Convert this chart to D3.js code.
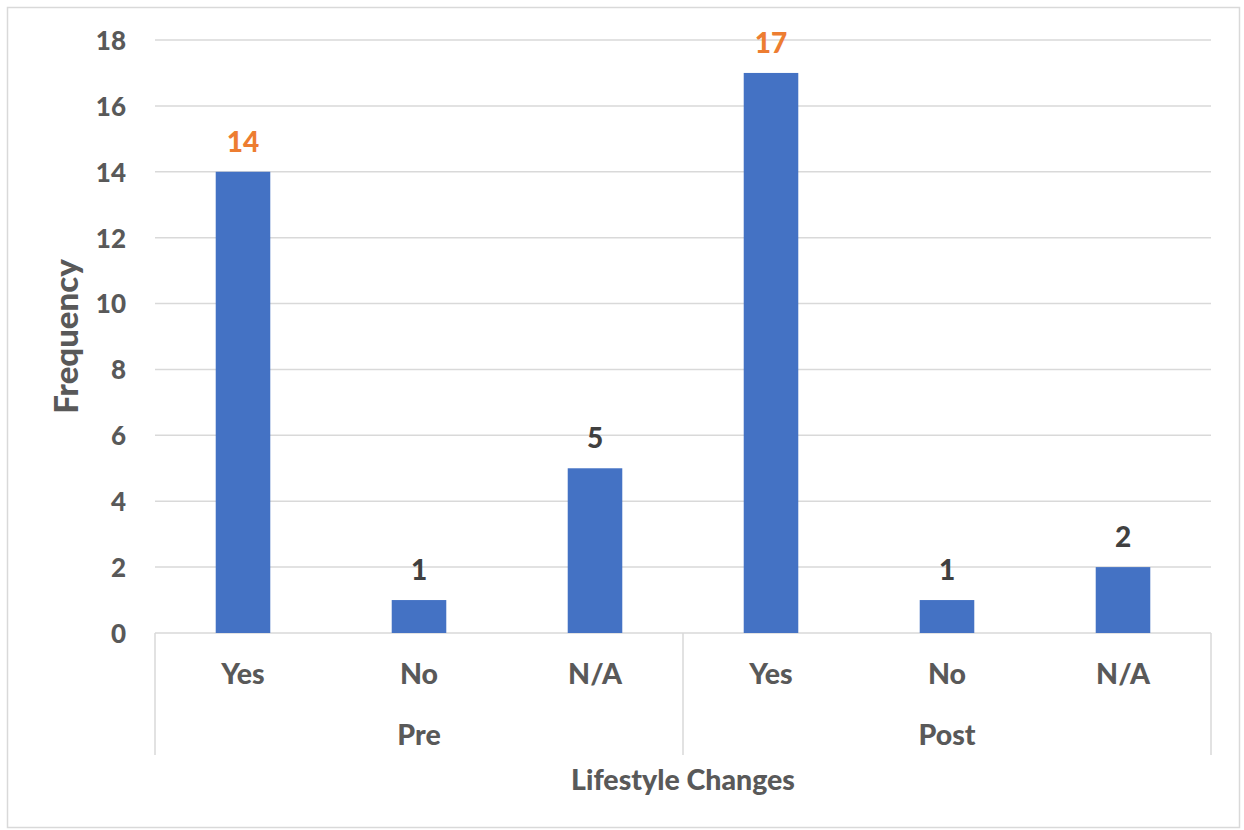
<!DOCTYPE html>
<html>
<head>
<meta charset="utf-8">
<script src="https://cdn.jsdelivr.net/npm/d3@7"></script>
<style>
  html, body { margin: 0; padding: 0; background: #fff; }
  svg text { font-family: Lato, "Open Sans", "Noto Sans", sans-serif; font-weight: 900; }
</style>
</head>
<body>
<svg id="chart" width="1244" height="830"></svg>
<script>
// Lifestyle change responses, before and after
const groups = ["Pre", "Post"];
const categories = ["Yes", "No", "N/A"];
const preValues = [14, 1, 5];
const postValues = [17, 1, 2];
const yTicks = [0, 2, 4, 6, 8, 10, 12, 14, 16, 18];
const highlightColor = "#ED7D31";   // labels for the "Yes" bars
const labelColor = "#404040";

const rows = [];
groups.forEach((g, gi) => {
  const vals = gi === 0 ? preValues : postValues;
  categories.forEach((c, ci) => rows.push({ group: g, cat: c, key: g + "|" + c, value: vals[ci] }));
});

const svg = d3.select("#chart");
const plot = { left: 155, right: 1211, top: 40, bottom: 633 };

// chart frame
svg.append("rect")
  .attr("x", 7.5).attr("y", 7.5)
  .attr("width", 1232).attr("height", 820)
  .attr("fill", "#fff").attr("stroke", "#D9D9D9").attr("stroke-width", 1.5);

const x = d3.scaleBand()
  .domain(rows.map(d => d.key))
  .range([plot.left, plot.right])
  .paddingInner(0.69).paddingOuter(0.345);

const y = d3.scaleLinear().domain([0, 18]).range([plot.bottom, plot.top]);

// gridlines
svg.append("g")
  .selectAll("line")
  .data(yTicks)
  .join("line")
  .attr("x1", plot.left).attr("x2", plot.right)
  .attr("y1", d => y(d)).attr("y2", d => y(d))
  .attr("stroke", "#D9D9D9").attr("stroke-width", 1.5);

// y axis labels
const yAxis = svg.append("g")
  .attr("transform", `translate(${plot.left - 29},0)`)
  .call(d3.axisLeft(y).tickValues(yTicks).tickSize(0).tickPadding(0));
yAxis.select(".domain").remove();
yAxis.selectAll("text")
  .attr("fill", "#595959")
  .style("font-size", "26px")
  .attr("dy", "0.36em");

// bars
svg.append("g")
  .selectAll("rect")
  .data(rows)
  .join("rect")
  .attr("x", d => x(d.key))
  .attr("width", x.bandwidth())
  .attr("y", d => y(d.value))
  .attr("height", d => y(0) - y(d.value))
  .attr("fill", "#4472C4");

// value labels
svg.append("g")
  .selectAll("text")
  .data(rows)
  .join("text")
  .attr("x", d => x(d.key) + x.bandwidth() / 2)
  .attr("y", d => y(d.value) - 30)
  .attr("dy", "0.36em")
  .attr("text-anchor", "middle")
  .style("font-size", "28px")
  .attr("fill", d => d.cat === "Yes" ? highlightColor : labelColor)
  .text(d => d.value);

// multi-level category axis
const groupWidth = (plot.right - plot.left) / groups.length;
const sepBottom = 755;
svg.append("g")
  .selectAll("line")
  .data(d3.range(groups.length + 1))
  .join("line")
  .attr("x1", i => plot.left + i * groupWidth).attr("x2", i => plot.left + i * groupWidth)
  .attr("y1", plot.bottom).attr("y2", sepBottom)
  .attr("stroke", "#D9D9D9").attr("stroke-width", 1.5);

svg.append("g")
  .selectAll("text")
  .data(rows)
  .join("text")
  .attr("x", d => x(d.key) + x.bandwidth() / 2)
  .attr("y", 674)
  .attr("dy", "0.36em")
  .attr("text-anchor", "middle")
  .style("font-size", "28.5px")
  .attr("fill", "#595959")
  .text(d => d.cat);

svg.append("g")
  .selectAll("text")
  .data(groups)
  .join("text")
  .attr("x", (d, i) => plot.left + (i + 0.5) * groupWidth)
  .attr("y", 735)
  .attr("dy", "0.36em")
  .attr("text-anchor", "middle")
  .style("font-size", "28.5px")
  .attr("fill", "#595959")
  .text(d => d);

// axis titles
svg.append("text")
  .attr("x", (plot.left + plot.right) / 2)
  .attr("y", 780)
  .attr("dy", "0.36em")
  .attr("text-anchor", "middle")
  .style("font-size", "28.5px")
  .attr("fill", "#595959")
  .text("Lifestyle Changes");

svg.append("text")
  .attr("transform", `translate(66,${(plot.top + plot.bottom) / 2}) rotate(-90)`)
  .attr("dy", "0.36em")
  .attr("text-anchor", "middle")
  .style("font-size", "33px")
  .attr("fill", "#595959")
  .text("Frequency");
</script>
</body>
</html>
